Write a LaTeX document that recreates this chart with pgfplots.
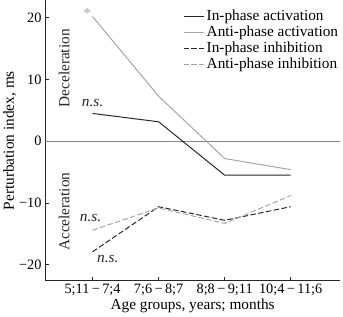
\documentclass[border=0pt]{standalone}
\usepackage{fontspec}
\setmainfont{Liberation Serif}
\usepackage{pgfplots}
\pgfplotsset{compat=1.18}

\definecolor{dark}{gray}{0.15}
\definecolor{light}{gray}{0.65}

\begin{document}
\begin{tikzpicture}
\begin{axis}[
  scale only axis, width=299pt, height=284pt,
  xmin=-0.72, xmax=3.75, ymin=-22.6, ymax=22.8,
  axis x line*=bottom, axis y line*=left,
  axis line style={dark, line width=0.8pt},
  tick align=inside, major tick length=4pt,
  tick style={dark, line width=0.8pt},
  xtick={0,1,2,3},
  xticklabels={5;11\,−\,7;4, 7;6\,−\,8;7, 8;8\,−\,9;11, 10;4\,−\,11;6},
  ytick={-20,-10,0,10,20},
  yticklabels={−20,−10,0,10,20},
  font=\fontsize{15.5}{18}\selectfont,
  ticklabel style={font=\fontsize{14.5}{17}\selectfont},
  xlabel={Age groups, years; months},
  ylabel={Perturbation index, ms},
  xlabel style={yshift=4pt},
  ylabel style={yshift=-4pt},
  legend style={draw=none, fill=none, at={(1,1)}, anchor=north east,
    xshift=3pt, yshift=-6pt, row sep=1pt,
    nodes={inner ysep=1.5pt},
    font=\fontsize{15.5}{18}\selectfont},
  legend cell align=left,
  legend image code/.code={\draw[#1] (0pt,0pt) -- (21pt,0pt);},
]
% zero reference line
\addplot[light!80!black, line width=0.8pt, forget plot] coordinates {(-0.72,0) (3.75,0)};

\addplot[dark, line width=1pt] coordinates {(0,4.5) (1,3.15) (2,-5.5) (3,-5.5)};
\addlegendentry{In-phase activation}
\addplot[light, line width=1pt] coordinates {(0,20.2) (1,7.3) (2,-2.8) (3,-4.6)};
\addlegendentry{Anti-phase activation}
\addplot[dark, line width=1pt, dash pattern=on 5.5pt off 2.5pt] coordinates {(0,-17.9) (1,-10.6) (2,-12.8) (3,-10.6)};
\addlegendentry{In-phase inhibition}
\addplot[light, line width=1pt, dash pattern=on 5.5pt off 2.5pt] coordinates {(0,-14.4) (1,-10.8) (2,-13.3) (3,-8.8)};
\addlegendentry{Anti-phase inhibition}

\node[rotate=90, text=dark] at (axis cs:-0.43,11.8) {Deceleration};
\node[rotate=90, text=dark] at (axis cs:-0.43,-11.4) {Acceleration};
\node[text=dark] at (axis cs:0,6.2) {\itshape n.s.};
\node[text=dark] at (axis cs:-0.03,-12.4) {\itshape n.s.};
\node[text=dark] at (axis cs:0.23,-19.1) {\itshape n.s.};
\node[text=light] at (axis cs:-0.08,20.6) {*};
\end{axis}
\end{tikzpicture}
\end{document}
